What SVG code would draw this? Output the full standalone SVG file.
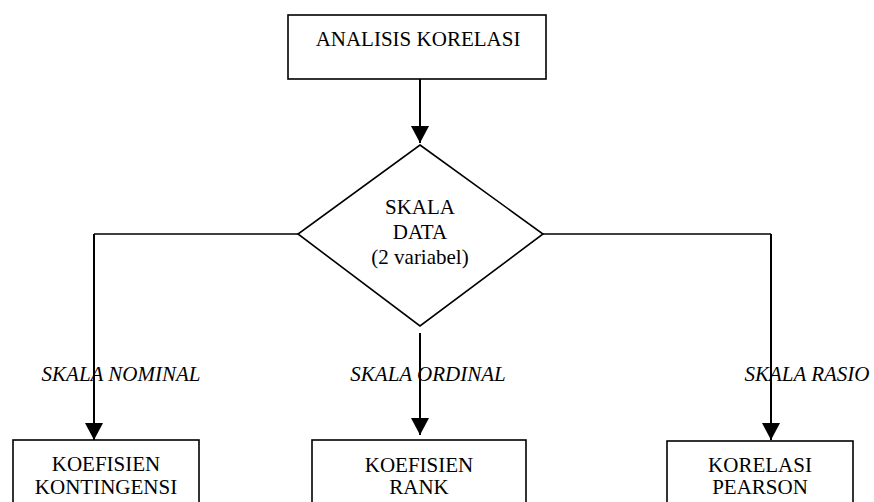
<svg xmlns="http://www.w3.org/2000/svg" width="874" height="502" viewBox="0 0 874 502">
<defs>
<style>
.box{fill:#fff;stroke:#000;stroke-width:1.6}
.t{font-family:"Liberation Serif","Times New Roman",serif;font-size:21px;fill:#000;text-anchor:middle}
.lbl{font-family:"Liberation Serif","Times New Roman",serif;font-size:21px;font-style:italic;fill:#000;text-anchor:middle}
.c{fill:none;stroke:#000;stroke-width:2}
.h{fill:none;stroke:#000;stroke-width:1.5}
</style>
<marker id="ah" markerUnits="userSpaceOnUse" markerWidth="18" markerHeight="18" viewBox="0 0 18 18" refX="17" refY="9" orient="auto">
<path d="M0,0 L17,9 L0,18 Z" fill="#000"/>
</marker>
</defs>
<rect width="874" height="502" fill="#fff"/>
<g id="labels">
<text class="lbl" x="121" y="381">SKALA NOMINAL</text>
<text class="lbl" x="428" y="381">SKALA ORDINAL</text>
<text class="lbl" x="807" y="381">SKALA RASIO</text>
</g>
<g id="connectors">
<path class="c" d="M420,79 V143" marker-end="url(#ah)"/>
<path class="h" d="M298,234 H94"/>
<path class="c" d="M94,234 V440" marker-end="url(#ah)"/>
<path class="h" d="M543,234 H771"/>
<path class="c" d="M771,234 V440" marker-end="url(#ah)"/>
<path class="c" d="M420,333 V435" marker-end="url(#ah)"/>
</g>
<g id="analisis">
<rect class="box" x="288" y="15" width="258" height="64"/>
<text class="t" x="418" y="46">ANALISIS KORELASI</text>
</g>
<g id="skala">
<polygon class="box" points="420,145 543,234 420,326 298,234"/>
<text class="t" x="420" y="214">SKALA</text>
<text class="t" x="420" y="239">DATA</text>
<text class="t" x="420" y="264">(2 variabel)</text>
</g>
<g id="kontingensi">
<rect class="box" x="13" y="440" width="186" height="80"/>
<text class="t" x="106" y="471">KOEFISIEN</text>
<text class="t" x="106" y="494">KONTINGENSI</text>
</g>
<g id="rank">
<rect class="box" x="312" y="440" width="214" height="80"/>
<text class="t" x="419" y="472">KOEFISIEN</text>
<text class="t" x="419" y="494">RANK</text>
</g>
<g id="pearson">
<rect class="box" x="667" y="441" width="186" height="80"/>
<text class="t" x="760" y="472">KORELASI</text>
<text class="t" x="760" y="494">PEARSON</text>
</g>
</svg>
